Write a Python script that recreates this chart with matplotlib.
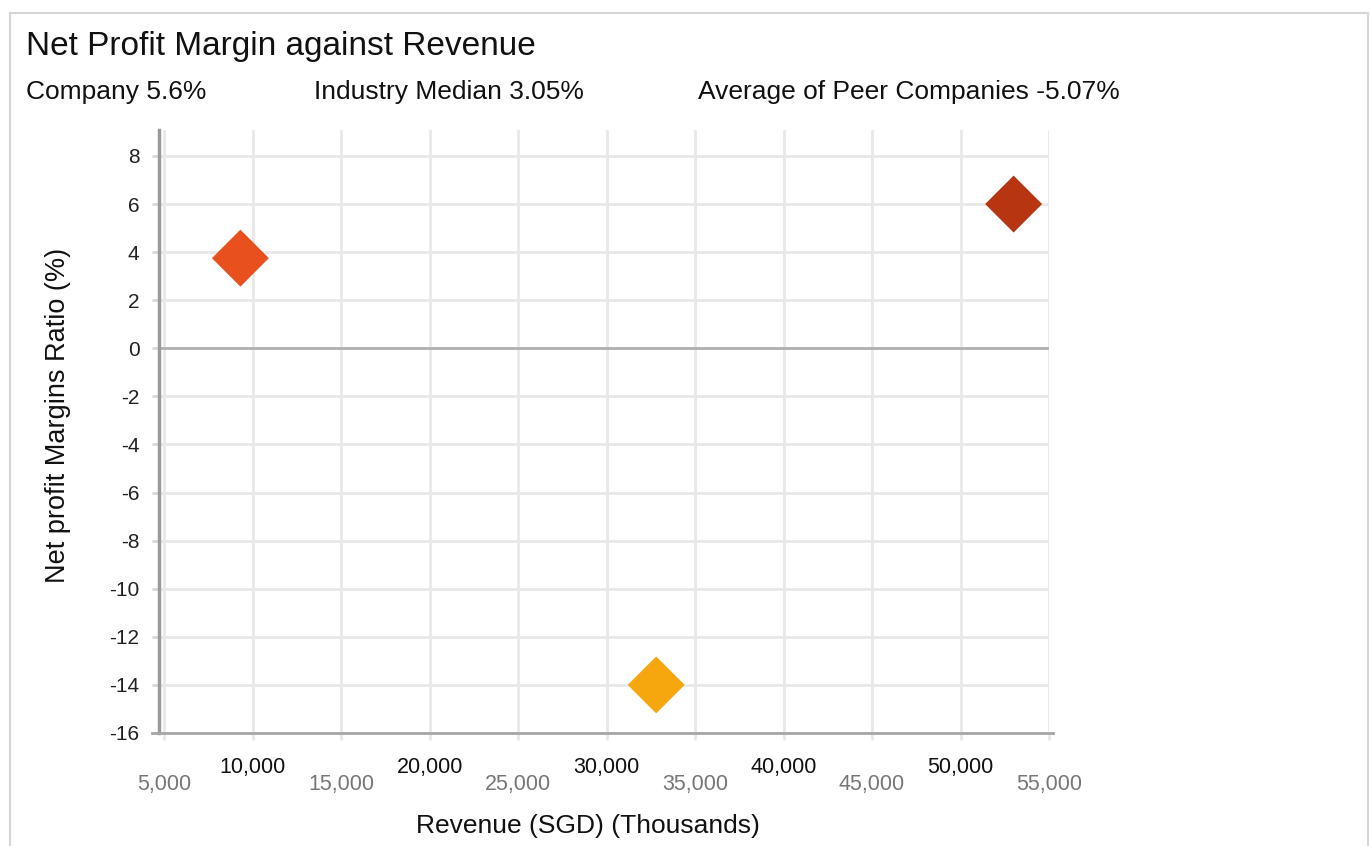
import matplotlib
matplotlib.use("Agg")
import matplotlib.pyplot as plt
from matplotlib.patches import Rectangle

# ---- data ----
names = ["Industry Median", "Company", "Average of Peer Companies"]
revenue = [9300, 53000, 32800]          # thousands SGD
margin = [3.75, 6.0, -14.0]             # %
colors = ["#E8501E", "#B83512", "#F7A70E"]

title = "Net Profit Margin against Revenue"
subtitles = ["Company 5.6%", "Industry Median 3.05%", "Average of Peer Companies -5.07%"]
subtitle_x = [26, 314, 698]

y_ticks = [8, 6, 4, 2, 0, -2, -4, -6, -8, -10, -12, -14, -16]
x_major = [10000, 20000, 30000, 40000, 50000]
x_minor = [5000, 15000, 25000, 35000, 45000, 55000]

plt.rcParams['font.family'] = ['Liberation Sans', 'DejaVu Sans']

W, H = 1371, 846
fig = plt.figure(figsize=(W / 100, H / 100), dpi=100)

def fx(px):
    return px / W

def fy(py):
    return 1 - py / H

# outer border
fig.patches.append(Rectangle((fx(10), fy(900)), fx(1368) - fx(10), fy(13) - fy(900),
                             transform=fig.transFigure, fill=False,
                             edgecolor="#d6d6d6", linewidth=1.5))

fig.text(fx(26), fy(55), title, fontsize=24, color="#111111", va="baseline", ha="left")
for s, x in zip(subtitles, subtitle_x):
    fig.text(fx(x), fy(99), s, fontsize=19, color="#111111", va="baseline", ha="left")

ax = fig.add_axes([fx(159), fy(733), fx(1049) - fx(159), fy(130) - fy(733)])
ax.set_xlim(4700, 55000)
ax.set_ylim(-16, 9.08)

grid_c = "#e8e8e8"
ax.set_axisbelow(True)
for v in x_major + x_minor:
    ax.axvline(v, color=grid_c, lw=2, zorder=0)
for v in y_ticks:
    ax.axhline(v, color=grid_c, lw=2, zorder=0)
ax.axhline(0, color="#b0b0b0", lw=2, zorder=1)

ax.scatter(revenue, margin, marker="D", s=29 ** 2, c=colors, linewidths=0, zorder=3)

for sp in ["top", "right"]:
    ax.spines[sp].set_visible(False)
ax.spines["left"].set_color("#9a9a9a")
ax.spines["left"].set_linewidth(2.5)
ax.spines["bottom"].set_color("#a6a6a6")
ax.spines["bottom"].set_linewidth(2)
ax.spines["bottom"].set_bounds(4300, 55250)

ax.set_yticks(y_ticks)
ax.set_yticklabels([str(v) for v in y_ticks])
ax.tick_params(axis="y", length=5, width=2, color="#d8d8d8", pad=9,
               labelsize=15, labelcolor="#222222")

ax.set_xticks(x_major)
ax.set_xticklabels([f"{v:,}" for v in x_major])
ax.set_xticks(x_minor, minor=True)
ax.set_xticklabels([f"{v:,}" for v in x_minor], minor=True)
ax.tick_params(axis="x", which="major", length=5, width=2, color=grid_c, pad=12.5,
               labelsize=15.5, labelcolor="#111111")
ax.tick_params(axis="x", which="minor", length=5, width=2, color=grid_c, pad=24.5,
               labelsize=15.5, labelcolor="#777777")

fig.text(fx(58), fy(415), "Net profit Margins Ratio (%)", rotation=90, fontsize=19.5,
         ha="center", va="center", color="#111111")
fig.text(fx(588), fy(826), "Revenue (SGD) (Thousands)", fontsize=19,
         ha="center", va="center", color="#111111")

fig.savefig("out.png", dpi=100)
